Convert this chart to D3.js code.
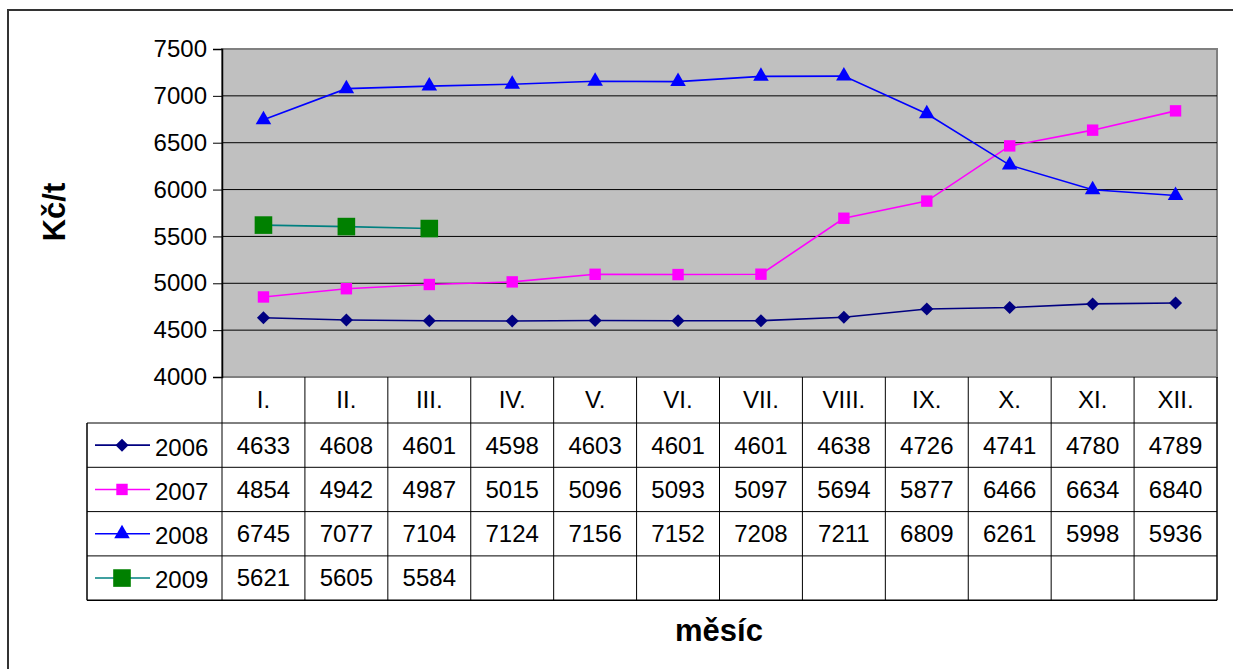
<!DOCTYPE html>
<html>
<head>
<meta charset="utf-8">
<script src="https://cdn.jsdelivr.net/npm/d3@7"></script>
<style>
  body { margin: 0; background: #fff; }
  svg { display: block; font-family: "Liberation Sans", Arial, sans-serif; }
</style>
</head>
<body>
<div id="chart"></div>
<script>
// months and yearly series (Kč/t)
var months = ["I.", "II.", "III.", "IV.", "V.", "VI.", "VII.", "VIII.", "IX.", "X.", "XI.", "XII."];
var years = ["2006", "2007", "2008", "2009"];
var v2006 = [4633, 4608, 4601, 4598, 4603, 4601, 4601, 4638, 4726, 4741, 4780, 4789];
var v2007 = [4854, 4942, 4987, 5015, 5096, 5093, 5097, 5694, 5877, 6466, 6634, 6840];
var v2008 = [6745, 7077, 7104, 7124, 7156, 7152, 7208, 7211, 6809, 6261, 5998, 5936];
var v2009 = [5621, 5605, 5584];
var yTicks = [4000, 4500, 5000, 5500, 6000, 6500, 7000, 7500];

var width = 1233, height = 669;
var font = "'Liberation Sans', Arial, sans-serif";
var textSize = 24;

// styling per series (rot = marker rotation, diamond is a turned square)
var series = [
    {name: years[0], values: v2006, line: "#000080", fill: "#000080", shape: d3.symbolSquare, size: 85, rot: 45},
    {name: years[1], values: v2007, line: "#ff00ff", fill: "#ff00ff", shape: d3.symbolSquare, size: 130, rot: 0},
    {name: years[2], values: v2008, line: "#0000ff", fill: "#0000ff", shape: d3.symbolTriangle, size: 105, rot: 0},
    {name: years[3], values: v2009, line: "#008080", fill: "#008000", shape: d3.symbolSquare, size: 310, rot: 0}
];

var svg = d3.select("#chart")
    .append("svg")
    .attr("width", width)
    .attr("height", height);

// outer frame (right and bottom edges run off the page)
svg.append("rect")
    .attr("x", 8).attr("y", 10)
    .attr("width", width + 20).attr("height", height + 20)
    .attr("fill", "#fff")
    .attr("stroke", "#333").attr("stroke-width", 2);

var plotLeft = 222, plotRight = 1217, plotTop = 49, plotBottom = 377;

var x = d3.scaleBand().domain(months).range([plotLeft, plotRight]);
var y = d3.scaleLinear().domain([4000, 7500]).range([plotBottom, plotTop]);

// plot background
svg.append("rect")
    .attr("x", plotLeft).attr("y", plotTop)
    .attr("width", plotRight - plotLeft).attr("height", plotBottom - plotTop)
    .attr("fill", "#c0c0c0")
    .attr("stroke", "#808080").attr("stroke-width", 2);

// gridlines
svg.append("g")
    .selectAll("line")
    .data(yTicks.slice(1, -1))
    .enter().append("line")
    .attr("x1", plotLeft).attr("x2", plotRight)
    .attr("y1", function(d) { return y(d); })
    .attr("y2", function(d) { return y(d); })
    .attr("stroke", "#000").attr("stroke-width", 1);

// y axis
var yAxis = svg.append("g")
    .attr("transform", "translate(" + plotLeft + ",0)")
    .call(d3.axisLeft(y).tickValues(yTicks).tickSize(9).tickPadding(6).tickFormat(d3.format("d")));
yAxis.attr("font-family", font);
yAxis.select(".domain").attr("stroke", "#000").attr("stroke-width", 1.5);
yAxis.selectAll(".tick line").attr("stroke", "#000");
yAxis.selectAll("text").attr("font-size", textSize).attr("fill", "#000");

// series lines and markers
var line = d3.line()
    .x(function(d, i) { return x(months[i]) + x.bandwidth() / 2; })
    .y(function(d) { return y(d); });

series.forEach(function(s) {
    svg.append("path")
        .datum(s.values)
        .attr("d", line)
        .attr("fill", "none")
        .attr("stroke", s.line)
        .attr("stroke-width", 1.6);

    svg.append("g")
        .selectAll("path")
        .data(s.values)
        .enter().append("path")
        .attr("d", d3.symbol().type(s.shape).size(s.size))
        .attr("transform", function(d, i) {
            return "translate(" + (x(months[i]) + x.bandwidth() / 2) + "," + y(d) + ") rotate(" + s.rot + ")";
        })
        .attr("fill", s.fill);
});

// data table
var headerBottom = 423, rowH = 44.3, legendLeft = 87;
var table = svg.append("g").attr("font-family", font);

months.forEach(function(m) {
    table.append("text")
        .attr("x", x(m) + x.bandwidth() / 2)
        .attr("y", 400)
        .attr("dy", "0.35em")
        .attr("text-anchor", "middle")
        .attr("font-size", textSize)
        .text(m);
});

series.forEach(function(s, r) {
    var cy = headerBottom + rowH * (r + 0.5);
    // legend key
    table.append("line")
        .attr("x1", 95).attr("x2", 150)
        .attr("y1", cy).attr("y2", cy)
        .attr("stroke", s.line).attr("stroke-width", 1.6);
    table.append("path")
        .attr("d", d3.symbol().type(s.shape).size(s.size))
        .attr("transform", "translate(122," + cy + ") rotate(" + s.rot + ")")
        .attr("fill", s.fill);
    table.append("text")
        .attr("x", 155).attr("y", cy + 2)
        .attr("dy", "0.35em")
        .attr("font-size", textSize)
        .text(s.name);
    s.values.forEach(function(v, i) {
        table.append("text")
            .attr("x", x(months[i]) + x.bandwidth() / 2)
            .attr("y", cy)
            .attr("dy", "0.35em")
            .attr("text-anchor", "middle")
            .attr("font-size", textSize)
            .text(v);
    });
});

var tableBottom = headerBottom + rowH * series.length;

// table grid lines
months.forEach(function(m, i) {
    table.append("line")
        .attr("x1", x(m)).attr("x2", x(m))
        .attr("y1", plotBottom).attr("y2", tableBottom)
        .attr("stroke", "#000").attr("stroke-width", 1);
});
table.append("line")
    .attr("x1", plotRight).attr("x2", plotRight)
    .attr("y1", plotBottom).attr("y2", tableBottom)
    .attr("stroke", "#000").attr("stroke-width", 1.5);
table.append("line")
    .attr("x1", legendLeft).attr("x2", legendLeft)
    .attr("y1", headerBottom).attr("y2", tableBottom)
    .attr("stroke", "#000").attr("stroke-width", 1.5);
d3.range(series.length + 1).forEach(function(r) {
    table.append("line")
        .attr("x1", legendLeft).attr("x2", plotRight)
        .attr("y1", headerBottom + rowH * r).attr("y2", headerBottom + rowH * r)
        .attr("stroke", "#000").attr("stroke-width", r === series.length ? 1.5 : 1);
});

// axis titles
svg.append("text")
    .attr("transform", "translate(65,212) rotate(-90)")
    .attr("text-anchor", "middle")
    .attr("font-family", font)
    .attr("font-size", 31)
    .attr("font-weight", "bold")
    .text("Kč/t");

svg.append("text")
    .attr("x", 719).attr("y", 641)
    .attr("text-anchor", "middle")
    .attr("font-family", font)
    .attr("font-size", 31)
    .attr("font-weight", "bold")
    .text("měsíc");
</script>
</body>
</html>
